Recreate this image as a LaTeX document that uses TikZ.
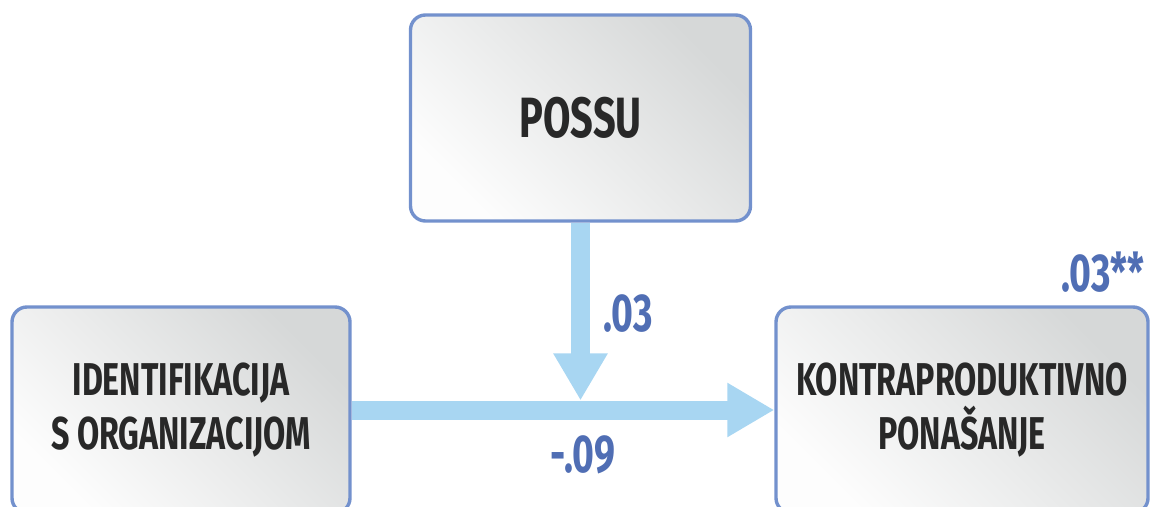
\documentclass[tikz,border=0pt]{standalone}
\usepackage{fontspec}
\setmainfont{Fira Sans}[FakeStretch=0.70]
\usetikzlibrary{arrows.meta,backgrounds}
\definecolor{boxblue}{RGB}{115,145,205}
\definecolor{boxgray}{RGB}{214,216,216}
\definecolor{boxwhite}{RGB}{253,253,253}
\definecolor{boxtext}{RGB}{40,40,40}
\definecolor{arrowblue}{RGB}{168,214,242}
\definecolor{labblue}{RGB}{80,110,180}
\begin{document}
\begin{tikzpicture}[x=0.5pt,y=-0.5pt,
  box/.style={draw=boxblue, line width=1.7pt, rounded corners=7.5pt,
    top color=boxgray, bottom color=boxwhite, shading angle=-45,
    text=boxtext, font=\bfseries\fontsize{23}{27}\selectfont,
    align=center, inner sep=0pt, minimum height=103pt},
  arr/.style={draw=arrowblue, line width=9.5pt,
    -{Triangle[length=23.5pt,width=25.5pt]}},
  lab/.style={text=labblue, font=\bfseries\fontsize{26.7}{30}\selectfont, inner sep=0pt}]
\useasboundingbox (0,0) rectangle (1150,507);
\clip (0,0) rectangle (1150,507);
\node[box, minimum width=170pt, font=\bfseries\fontsize{28.4}{30}\selectfont] (possu) at (580.5,118) {POSSU};
\node[box, minimum width=169pt] (ident) at (181,410) {IDENTIFIKACIJA\\S ORGANIZACIJOM};
\node[box, minimum width=186pt] (kontra) at (962,410) {KONTRAPRODUKTIVNO\\PONAŠANJE};
\coordinate (meet) at (580.5,400.5);
\begin{pgfonlayer}{background}
\draw[arr] (ident.east) -- (kontra.west);
\draw[arr] (possu.south) -- (meet);
\end{pgfonlayer}
\node[lab] (l1) at (628,314) {.03};
\node[lab] (l2) at (583,455) {-.09};
\node[lab] (l3) at (1103,272) {.03**};
\end{tikzpicture}
\end{document}
